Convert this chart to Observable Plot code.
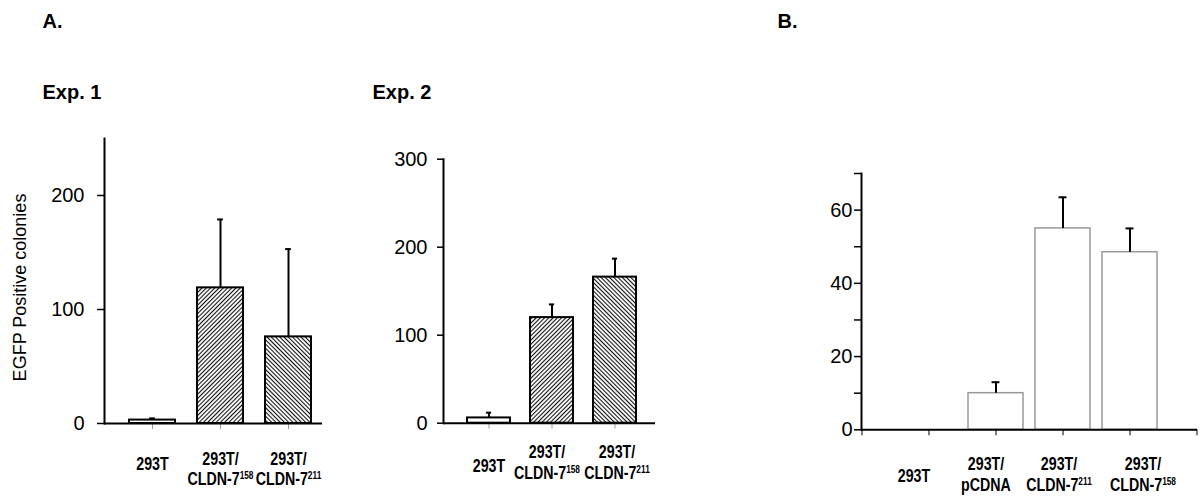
<!DOCTYPE html>
<html><head><meta charset="utf-8">
<script src="https://cdn.jsdelivr.net/npm/d3@7"></script>
<script src="https://cdn.jsdelivr.net/npm/@observablehq/plot@0.6"></script>
<style>
body{margin:0;background:#fff;}
#root{position:relative;width:1200px;height:496px;overflow:hidden;background:#fff;}
#root svg.panel{position:absolute;top:0;}
</style></head><body>
<svg width="0" height="0" style="position:absolute">
  <defs>
    <pattern id="hatchF" patternUnits="userSpaceOnUse" width="3" height="3" patternTransform="rotate(45)">
      <rect width="3" height="3" fill="white"/>
      <line x1="1.5" y1="0" x2="1.5" y2="3" stroke="#111" stroke-width="1.1"/>
    </pattern>
    <pattern id="hatchB" patternUnits="userSpaceOnUse" width="3" height="3" patternTransform="rotate(-45)">
      <rect width="3" height="3" fill="white"/>
      <line x1="1.5" y1="0" x2="1.5" y2="3" stroke="#111" stroke-width="1.1"/>
    </pattern>
  </defs>
</svg>
<div id="root"></div>
<script>
// ---------- data ----------
const catsA = ["293T", "293T/CLDN-7158", "293T/CLDN-7211"];
const labelsA = ["293T", "293T/\nCLDN-7^158", "293T/\nCLDN-7^211"];
const exp1Mean = [3, 119, 76];
const exp1Err = [1.5, 60, 77];
const exp1Ticks = [0, 100, 200];
const exp2Mean = [6, 120, 166];
const exp2Err = [6, 15, 21];
const exp2Ticks = [0, 100, 200, 300];
const catsB = ["293T", "293T/pCDNA", "293T/CLDN-7211", "293T/CLDN-7158"];
const labelsB = ["293T", "293T/\npCDNA", "293T/\nCLDN-7^211", "293T/\nCLDN-7^158"];
const bMean = [0, 10, 55, 48.5];
const bErr = [0, 3, 8.5, 6.5];
const bTicks = [0, 10, 20, 30, 40, 50, 60, 70];
const bLabelTicks = [0, 20, 40, 60];
const yTitle = "EGFP Positive colonies";

// ---------- styles ----------
const fillsA = ["white", "url(#hatchF)", "url(#hatchB)"];
const shiftExp1 = [0, 0, 0];
const shiftExp2 = [0, -5, 2];
const shiftB = [-15, -10, -4, 13];
const SANS = "'Liberation Sans', Arial, sans-serif";
const H = 496;
const root = document.getElementById("root");

function applySup(svg) {
  svg.querySelectorAll("text, tspan").forEach(el => {
    for (const node of [...el.childNodes]) {
      if (node.nodeType === 3 && node.nodeValue.includes("^")) {
        const [base, sup] = node.nodeValue.split("^");
        node.nodeValue = base;
        const t = document.createElementNS("http://www.w3.org/2000/svg", "tspan");
        t.setAttribute("font-size", "10.5");
        t.setAttribute("dy", "-6");
        t.textContent = sup;
        el.insertBefore(t, node.nextSibling);
      }
    }
  });
  // condense the category labels (narrow bold face look)
  svg.querySelectorAll("g.catlabel text").forEach(el => {
    const tr = el.getAttribute("transform") || "";
    el.setAttribute("transform", tr + " scale(0.79,1)");
  });
}

function title(str, X, Y, ml, mt) {
  return Plot.text([str], {text: d => d, frameAnchor: "top-left", textAnchor: "start", lineAnchor: "bottom",
    dx: X - ml, dy: Y - mt, fontSize: 20, fontWeight: "bold", fontFamily: SANS, fill: "black"});
}

function panel(o) {
  const rows = o.cats.map((c, i) => ({cat: c, label: o.labels[i], mean: o.mean[i], err: o.err[i], fill: o.fills[i]}));
  const errs = rows.filter(d => d.err > 0);
  const n = o.domain.length;
  const step = (o.xrange[1] - o.xrange[0]) / n;
  const bw = step * (1 - o.padIn);
  const inset = (bw - o.cap) / 2;
  const labelOpts = {x: "cat", text: "label", frameAnchor: "bottom", lineAnchor: "middle", lineHeight: 1.15,
    fontSize: 18, fontWeight: "bold", fontFamily: SANS, fill: "black", className: "catlabel"};
  const labelMarks = rows.map((r, i) => Plot.text([r], {
    ...labelOpts, dx: o.shifts[i], dy: r.label.includes("\n") ? o.multiDy : o.singleDy
  }));
  const marks = [
    Plot.barY(rows, {x: "cat", y: "mean", fill: "fill", stroke: o.barStroke, strokeWidth: o.barStrokeWidth}),
    Plot.ruleX(errs, {x: "cat", y1: "mean", y2: d => d.mean + d.err, stroke: "black", strokeWidth: 2}),
    Plot.tickY(errs, {x: "cat", y: d => d.mean + d.err, insetLeft: inset, insetRight: inset, stroke: "black", strokeWidth: 2}),
    Plot.axisY({ticks: o.ticks, tickSize: o.tickSize, tickPadding: o.tickPadding, fontSize: 20, fontFamily: SANS,
      strokeWidth: 1.5, stroke: "black", fill: "black", label: null,
      tickFormat: d => (o.labelTicks ? (o.labelTicks.includes(d) ? String(d) : "") : String(d))}),
    Plot.axisX({tickSize: o.xTickSize, stroke: o.xTickColor, strokeWidth: 1, tickFormat: () => "", label: null}),
    Plot.ruleY([0], {stroke: "black", strokeWidth: 2}),
    Plot.frame({anchor: "left", stroke: "black", strokeWidth: 2}),
    ...labelMarks,
    ...(o.extra || [])
  ];
  const svg = Plot.plot({
    width: o.width, height: H,
    marginLeft: o.ml, marginRight: o.mr, marginTop: o.mt, marginBottom: o.mb,
    x: {domain: o.domain, range: o.xrange.map(v => v - o.left), paddingInner: o.padIn, paddingOuter: o.padIn / 2},
    y: {domain: o.ydomain},
    color: {type: "identity"},
    style: {fontFamily: SANS, background: "transparent", color: "black"},
    marks
  });
  applySup(svg);
  svg.classList.add("panel");
  svg.style.left = o.left + "px";
  svg.style.maxWidth = "none";
  root.appendChild(svg);
}

// Exp. 1
panel({
  cats: catsA, labels: labelsA, mean: exp1Mean, err: exp1Err, fills: fillsA, domain: catsA, shifts: shiftExp1,
  left: 0, width: 330, ml: 104, mr: 8, mt: 138, mb: 73,
  xrange: [118, 322], padIn: 0.32, cap: 6, ydomain: [0, 250], ticks: exp1Ticks,
  tickSize: 7, tickPadding: 13, xTickSize: 6, xTickColor: "#999",
  barStroke: "black", barStrokeWidth: 2, multiDy: 45, singleDy: 40,
  extra: [
    title("A.", 42, 27, 104, 138),
    title("Exp. 1", 42, 98, 104, 138),
    Plot.text([yTitle], {text: d => d, frameAnchor: "left", rotate: -90, textAnchor: "middle", lineAnchor: "bottom",
      dx: 25 - 104, dy: 287 - 280.5, fontSize: 18, fontFamily: SANS, fill: "black"})
  ]
});

// Exp. 2
panel({
  cats: catsA, labels: labelsA, mean: exp2Mean, err: exp2Err, fills: fillsA, domain: catsA, shifts: shiftExp2,
  left: 330, width: 370, ml: 113, mr: 45, mt: 158.7, mb: 73.3,
  xrange: [456.25, 646.75], padIn: 0.31, cap: 6, ydomain: [0, 300], ticks: exp2Ticks,
  tickSize: 6, tickPadding: 10, xTickSize: 6, xTickColor: "#999",
  barStroke: "black", barStrokeWidth: 2, multiDy: 39, singleDy: 42,
  extra: [title("Exp. 2", 372 - 330, 98, 113, 158.7)]
});

// B
const domB = ["\u200bL", ...catsB, "\u200bR"];
panel({
  cats: catsB, labels: labelsB, mean: bMean, err: bErr, fills: catsB.map(() => "white"), domain: domB, shifts: shiftB,
  left: 700, width: 500, ml: 161, mr: 3, mt: 173, mb: 66.7,
  xrange: [827.5, 1230.5], padIn: 0.18, cap: 8, ydomain: [0, 70], ticks: bTicks, labelTicks: bLabelTicks,
  tickSize: 7, tickPadding: 2, xTickSize: 6, xTickColor: "black",
  barStroke: "#999", barStrokeWidth: 1.5, multiDy: 44, singleDy: 46,
  extra: [title("B.", 777 - 700, 27, 161, 173)]
});
</script>
</body></html>
